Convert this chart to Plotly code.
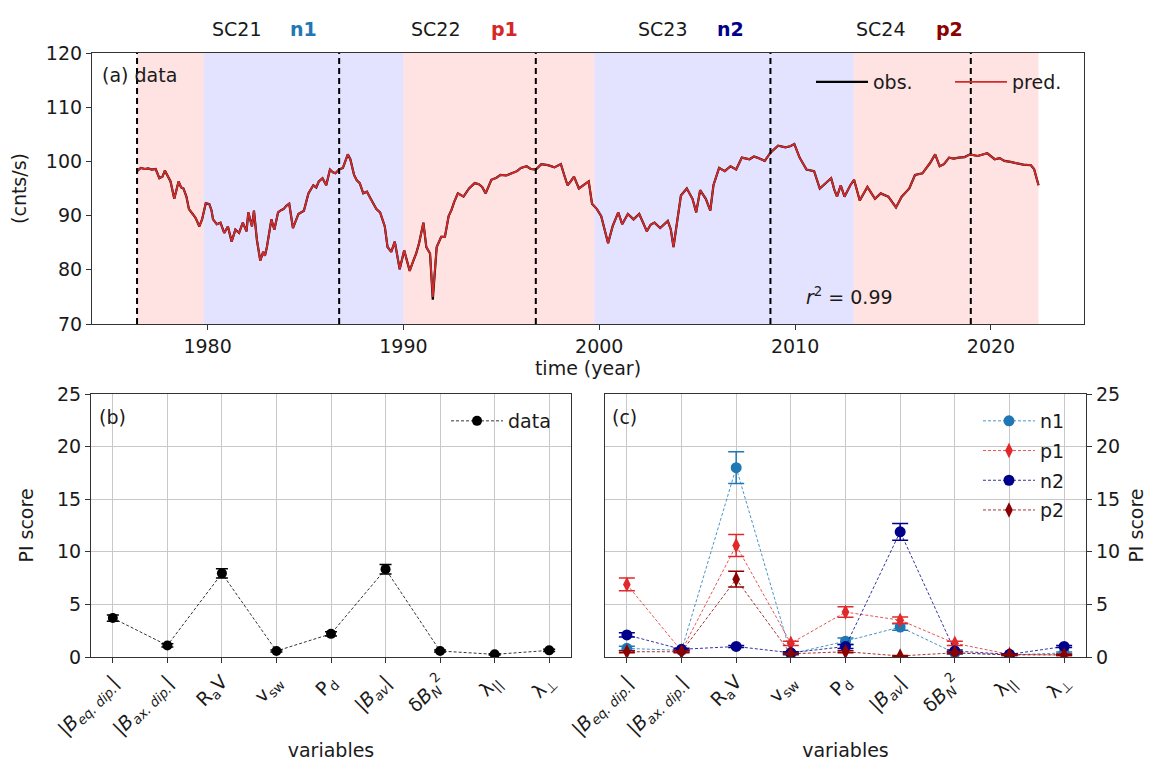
import plotly.graph_objects as go

# ---------------- data: panel (a) ----------------
years = [1976.40, 1976.59, 1976.80, 1976.97, 1977.15, 1977.35, 1977.54, 1977.70, 1977.82, 1977.95,
         1978.11, 1978.30, 1978.40, 1978.52, 1978.65, 1978.77, 1978.92, 1979.05, 1979.24, 1979.40,
         1979.58, 1979.72, 1979.91, 1980.09, 1980.20, 1980.28, 1980.47, 1980.66, 1980.85, 1981.04,
         1981.23, 1981.42, 1981.61, 1981.80, 1981.99, 1982.08, 1982.27, 1982.37, 1982.52, 1982.69,
         1982.84, 1982.93, 1983.03, 1983.26, 1983.41, 1983.60, 1983.75, 1983.88, 1984.02, 1984.17,
         1984.36, 1984.50, 1984.64, 1984.92, 1985.15, 1985.40, 1985.55, 1985.68, 1985.87, 1986.06,
         1986.25, 1986.40, 1986.53, 1986.72, 1986.91, 1987.05, 1987.16, 1987.29, 1987.48, 1987.62,
         1987.77, 1987.95, 1988.14, 1988.33, 1988.50, 1988.62, 1988.81, 1989.05, 1989.19, 1989.38,
         1989.56, 1989.70, 1989.81, 1990.04, 1990.20, 1990.32, 1990.51, 1990.65, 1990.80, 1991.02,
         1991.17, 1991.36, 1991.50, 1991.70, 1991.93, 1992.12, 1992.31, 1992.45, 1992.59, 1992.78,
         1993.07, 1993.35, 1993.64, 1993.85, 1994.02, 1994.20, 1994.49, 1994.75, 1994.96, 1995.25,
         1995.53, 1995.80, 1996.00, 1996.29, 1996.50, 1996.76, 1997.04, 1997.38, 1997.71, 1997.90,
         1998.04, 1998.21, 1998.38, 1998.54, 1998.71, 1998.96, 1999.21, 1999.46, 1999.63, 1999.88,
         2000.10, 2000.25, 2000.45, 2000.68, 2000.97, 2001.17, 2001.46, 2001.75, 2002.04, 2002.25,
         2002.43, 2002.62, 2002.82, 2003.11, 2003.30, 2003.50, 2003.65, 2003.79, 2004.00, 2004.17,
         2004.47, 2004.76, 2004.95, 2005.15, 2005.44, 2005.67, 2005.83, 2006.12, 2006.41, 2006.70,
         2006.99, 2007.28, 2007.67, 2007.90, 2008.06, 2008.45, 2008.74, 2009.13, 2009.51, 2009.75,
         2009.96, 2010.23, 2010.58, 2010.97, 2011.26, 2011.55, 2011.84, 2012.00, 2012.14, 2012.33,
         2012.52, 2012.82, 2013.01, 2013.30, 2013.69, 2014.08, 2014.37, 2014.76, 2014.95, 2015.15,
         2015.44, 2015.83, 2016.12, 2016.50, 2016.89, 2017.15, 2017.38, 2017.60, 2017.86, 2018.10,
         2018.35, 2018.65, 2018.93, 2019.32, 2019.81, 2020.19, 2020.45, 2020.68, 2021.00, 2021.26,
         2021.65, 2022.04, 2022.20, 2022.33, 2022.43]

counts_obs = [98.2, 98.8, 98.6, 98.7, 98.5, 98.6, 96.9, 97.2, 98.3, 97.5,
              96.3, 93.1, 94.6, 96.3, 95.2, 95.0, 93.5, 91.2, 90.3, 89.5,
              88.0, 89.3, 92.3, 92.1, 91.0, 89.3, 88.4, 88.7, 86.8, 88.0,
              85.2, 87.4, 86.8, 88.7, 87.1, 90.6, 88.0, 90.9, 85.5, 81.7,
              83.3, 82.6, 84.2, 89.3, 87.4, 90.6, 91.0, 91.2, 91.8, 92.2,
              87.7, 89.0, 90.3, 90.9, 94.1, 95.6, 95.2, 96.3, 96.9, 95.6,
              98.5, 98.0, 97.8, 98.5, 98.8, 100.2, 101.3, 100.4, 97.5, 96.5,
              96.0, 94.1, 94.4, 93.1, 92.0, 91.2, 90.6, 88.0, 84.2, 83.3,
              85.2, 82.5, 80.1, 83.6, 81.5, 79.8, 81.7, 83.0, 84.9, 88.7,
              84.2, 83.0, 74.5, 84.2, 86.1, 86.1, 89.9, 91.0, 92.5, 94.1,
              93.5, 95.0, 96.0, 95.8, 95.3, 94.1, 96.6, 97.0, 97.5, 97.4,
              97.8, 98.2, 98.8, 99.1, 98.6, 98.5, 99.5, 99.3, 98.9, 99.2,
              99.5, 97.5, 95.6, 96.3, 97.2, 95.0, 95.6, 96.3, 92.2, 91.2,
              89.9, 87.5, 84.9, 88.0, 90.6, 88.4, 90.3, 89.3, 90.3, 88.6,
              87.1, 88.3, 88.7, 87.7, 88.4, 89.0, 87.5, 84.2, 89.5, 93.7,
              95.0, 93.1, 90.6, 94.7, 93.1, 90.9, 95.6, 98.8, 98.2, 99.1,
              98.5, 100.7, 100.4, 100.9, 100.7, 100.1, 101.6, 102.9, 102.6, 102.8,
              103.2, 100.7, 98.5, 98.2, 95.0, 96.0, 96.9, 94.8, 93.5, 95.6,
              93.5, 95.6, 96.6, 92.8, 95.3, 93.1, 94.1, 93.5, 92.6, 91.5,
              93.5, 95.0, 97.5, 97.8, 99.7, 101.3, 99.1, 99.5, 100.7, 100.5,
              100.7, 100.8, 101.3, 101.0, 101.5, 100.4, 100.6, 100.1, 99.9, 99.7,
              99.4, 99.3, 98.6, 96.9, 95.6]

counts_pred = [98.2, 98.8, 98.6, 98.7, 98.5, 98.6, 96.9, 97.2, 98.3, 97.5,
               96.3, 93.1, 94.6, 96.3, 95.2, 95.0, 93.5, 91.2, 90.3, 89.5,
               88.0, 89.3, 92.3, 92.1, 91.0, 89.3, 88.4, 88.7, 86.8, 88.0,
               85.2, 87.4, 86.8, 88.7, 87.1, 90.6, 88.0, 90.9, 85.5, 81.7,
               83.3, 82.6, 84.2, 89.3, 87.4, 90.6, 91.0, 91.2, 91.8, 92.2,
               87.7, 89.0, 90.3, 90.9, 94.1, 95.6, 95.2, 96.3, 96.9, 95.6,
               98.5, 98.0, 97.8, 98.5, 98.8, 100.2, 101.3, 100.4, 97.5, 96.5,
               96.0, 94.1, 94.4, 93.1, 92.0, 91.2, 90.6, 88.0, 84.2, 83.3,
               85.2, 82.5, 80.1, 83.6, 81.5, 79.8, 81.7, 83.0, 84.9, 88.7,
               84.2, 83.0, 75.0, 84.2, 86.1, 86.1, 89.9, 91.0, 92.5, 94.1,
               93.5, 95.0, 96.0, 95.8, 95.3, 94.1, 96.6, 97.0, 97.5, 97.4,
               97.8, 98.2, 98.8, 99.1, 98.6, 98.5, 99.5, 99.3, 98.9, 99.2,
               99.5, 97.5, 95.6, 96.3, 97.2, 95.0, 95.6, 96.3, 92.2, 91.2,
               89.9, 87.5, 84.9, 88.0, 90.6, 88.4, 90.3, 89.3, 90.3, 88.6,
               87.1, 88.3, 88.7, 87.7, 88.4, 89.0, 87.5, 84.2, 89.5, 93.7,
               95.0, 93.1, 90.6, 94.7, 93.1, 90.9, 95.6, 98.8, 98.2, 99.1,
               98.5, 100.7, 100.4, 100.9, 100.7, 100.1, 101.6, 102.9, 102.6, 102.8,
               103.2, 100.7, 98.5, 98.2, 95.0, 96.0, 96.9, 94.8, 93.5, 95.6,
               93.5, 95.6, 96.6, 92.8, 95.3, 93.1, 94.1, 93.5, 92.6, 91.5,
               93.5, 95.0, 97.5, 97.8, 99.7, 101.3, 99.1, 99.5, 100.7, 100.5,
               100.7, 100.8, 101.3, 101.0, 101.5, 100.4, 100.6, 100.1, 99.9, 99.7,
               99.4, 99.3, 98.6, 96.9, 95.6]

cycle_minima = [1976.40, 1986.72, 1996.76, 2008.74, 2018.97]
phase_start = [1976.40, 1979.80, 1990.00, 1999.75, 2013.00]
phase_end = [1979.80, 1990.00, 1999.75, 2013.00, 2022.43]
phase_kind = ["p", "n", "p", "n", "p"]

cycle_names = ["SC21", "SC22", "SC23", "SC24"]
cycle_name_x = [1981.5, 1991.65, 2003.24, 2014.37]
period_names = ["n1", "p1", "n2", "p2"]
period_name_x = [1984.9, 1995.15, 2006.72, 2017.86]

# ---------------- data: panels (b), (c) ----------------
variables = ["|<i>B</i><sub><i>eq. dip.</i></sub>|", "|<i>B</i><sub><i>ax. dip.</i></sub>|",
             "R<sub>a</sub>V", "v<sub>sw</sub>", "P<sub>d</sub>", "|<i>B</i><sub><i>av</i></sub>|",
             "δ<i>B</i><sub><i>N</i></sub><sup>2</sup>", "λ<sub>||</sub>", "λ<sub>⊥</sub>"]

pi_data = [3.7, 1.1, 7.95, 0.57, 2.2, 8.35, 0.57, 0.25, 0.63]
pi_data_err = [0.3, 0.15, 0.45, 0.1, 0.2, 0.45, 0.1, 0.05, 0.1]

pi_n1 = [0.82, 0.63, 18.0, 0.3, 1.5, 2.85, 0.38, 0.2, 0.38]
pi_n1_err = [0.2, 0.1, 1.5, 0.1, 0.3, 0.3, 0.1, 0.05, 0.1]
pi_p1 = [6.9, 0.57, 10.6, 1.3, 4.27, 3.5, 1.3, 0.25, 0.2]
pi_p1_err = [0.6, 0.1, 1.05, 0.2, 0.5, 0.3, 0.2, 0.05, 0.05]
pi_n2 = [2.1, 0.73, 1.0, 0.4, 1.0, 11.9, 0.57, 0.25, 1.0]
pi_n2_err = [0.2, 0.1, 0.1, 0.1, 0.2, 0.8, 0.1, 0.05, 0.1]
pi_p2 = [0.5, 0.5, 7.4, 0.3, 0.5, 0.1, 0.4, 0.2, 0.2]
pi_p2_err = [0.1, 0.1, 0.75, 0.05, 0.1, 0.05, 0.1, 0.05, 0.05]

# ---------------- styling ----------------
FONT = "DejaVu Sans, Liberation Sans, sans-serif"
FS = 19
TXT = "#1a1a1a"
C_N1 = "#1f77b4"
C_P1 = "#e0292b"
C_N2 = "#00008b"
C_P2 = "#8b0000"
PINK = "rgba(255,0,0,0.11)"
BLUE = "rgba(0,0,255,0.11)"

W, H = 1155, 760


def px_x(p):
    return p / W


def px_y(p):
    return 1 - p / H


fig = go.Figure()

# panel (a)
fig.add_trace(go.Scatter(x=years, y=counts_obs, mode="lines", name="obs.",
                         line=dict(color="black", width=2.2), xaxis="x", yaxis="y", legend="legend"))
fig.add_trace(go.Scatter(x=years, y=counts_pred, mode="lines", name="pred.",
                         line=dict(color="#d42a2a", width=1.8), xaxis="x", yaxis="y", legend="legend"))

# panel (b)
fig.add_trace(go.Scatter(x=variables, y=pi_data, mode="lines+markers", name="data",
                         line=dict(color="black", width=0.8, dash="3px,2px"),
                         marker=dict(color="black", size=10, symbol="circle"),
                         error_y=dict(type="data", array=pi_data_err, color="black", thickness=1.5, width=6),
                         xaxis="x2", yaxis="y2", legend="legend2"))

# panel (c)
series_c = [("n1", pi_n1, pi_n1_err, C_N1, "circle"),
            ("p1", pi_p1, pi_p1_err, C_P1, "diamond-tall"),
            ("n2", pi_n2, pi_n2_err, C_N2, "circle"),
            ("p2", pi_p2, pi_p2_err, C_P2, "diamond-tall")]
for name, vals, errs, col, sym in series_c:
    fig.add_trace(go.Scatter(x=variables, y=vals, mode="lines+markers", name=name,
                             line=dict(color=col, width=0.8, dash="3px,2px"),
                             marker=dict(color=col, size=11, symbol=sym),
                             error_y=dict(type="data", array=errs, color=col, thickness=1.5, width=8),
                             xaxis="x3", yaxis="y3", legend="legend3", legendgroup=name))

shapes = []
for s, e, k in zip(phase_start, phase_end, phase_kind):
    shapes.append(dict(type="rect", xref="x", yref="y domain", x0=s, x1=e, y0=0, y1=1,
                       fillcolor=PINK if k == "p" else BLUE, line=dict(width=0), layer="below"))
for m in cycle_minima:
    shapes.append(dict(type="line", xref="x", yref="y domain", x0=m, x1=m, y0=0, y1=1,
                       line=dict(color="black", width=2, dash="6px,4px"), layer="above"))

annotations = []
for name, xx in zip(cycle_names, cycle_name_x):
    annotations.append(dict(text=name, x=xx, y=px_y(21), xref="x", yref="paper", yanchor="middle",
                            showarrow=False, font=dict(family=FONT, size=FS, color=TXT)))
for name, xx, col in zip(period_names, period_name_x, [C_N1, "#d62728", C_N2, C_P2]):
    annotations.append(dict(text="<b>" + name + "</b>", x=xx, y=px_y(21), xref="x", yref="paper",
                            yanchor="middle", showarrow=False, font=dict(family=FONT, size=FS, color=col)))
annotations.append(dict(text="(a) data", x=1974.5, y=116.0, xref="x", yref="y", xanchor="left",
                        yanchor="middle", showarrow=False, font=dict(family=FONT, size=FS, color=TXT)))
annotations.append(dict(text="<i>r</i><sup>2</sup> = 0.99", x=2012.8, y=75.2, xref="x", yref="y",
                        yanchor="middle", showarrow=False, font=dict(family=FONT, size=FS, color=TXT)))
annotations.append(dict(text="(b)", x=0.013, y=0.912, xref="x2 domain", yref="y2 domain", xanchor="left",
                        yanchor="middle", showarrow=False, font=dict(family=FONT, size=FS, color=TXT)))
annotations.append(dict(text="(c)", x=0.010, y=0.912, xref="x3 domain", yref="y3 domain", xanchor="left",
                        yanchor="middle", showarrow=False, font=dict(family=FONT, size=FS, color=TXT)))

axis_common = dict(showline=True, linecolor="#333", linewidth=1.2, mirror=True, ticks="outside",
                   ticklen=5, tickwidth=1.2, tickcolor="#333", zeroline=False,
                   tickfont=dict(family=FONT, size=FS, color=TXT), automargin=False)

fig.update_layout(
    width=W, height=H, margin=dict(l=0, r=0, t=0, b=0),
    plot_bgcolor="white", paper_bgcolor="white",
    font=dict(family=FONT, size=FS, color=TXT),
    shapes=shapes, annotations=annotations,
    xaxis=dict(axis_common, domain=[px_x(84), px_x(1076)], range=[1974.1, 2024.75], anchor="y",
               tickvals=[1980, 1990, 2000, 2010, 2020], showgrid=False,
               title=dict(text="time (year)", standoff=2, font=dict(family=FONT, size=FS, color=TXT))),
    yaxis=dict(axis_common, domain=[px_y(316), px_y(45)], range=[70, 120], anchor="x",
               tickvals=[70, 80, 90, 100, 110, 120], showgrid=False,
               title=dict(text="(cnts/s)", standoff=14, font=dict(family=FONT, size=FS, color=TXT))),
    xaxis2=dict(axis_common, domain=[px_x(83), px_x(563)], range=[-0.4, 8.4], anchor="y2",
                type="category", tickangle=-45, showgrid=True, gridcolor="#c8c8c8", gridwidth=1,
                title=dict(text="variables", standoff=3, font=dict(family=FONT, size=FS, color=TXT))),
    yaxis2=dict(axis_common, domain=[px_y(649), px_y(386)], range=[0, 25], anchor="x2",
                tickvals=[0, 5, 10, 15, 20, 25], showgrid=True, gridcolor="#c8c8c8", gridwidth=1,
                title=dict(text="PI score", standoff=18, font=dict(family=FONT, size=FS, color=TXT))),
    xaxis3=dict(axis_common, domain=[px_x(597), px_x(1078)], range=[-0.4, 8.4], anchor="y3",
                type="category", tickangle=-45, showgrid=True, gridcolor="#c8c8c8", gridwidth=1,
                title=dict(text="variables", standoff=3, font=dict(family=FONT, size=FS, color=TXT))),
    yaxis3=dict(axis_common, domain=[px_y(649), px_y(386)], range=[0, 25], anchor="x3", side="right",
                tickvals=[0, 5, 10, 15, 20, 25], showgrid=True, gridcolor="#c8c8c8", gridwidth=1,
                title=dict(text="PI score", standoff=10, font=dict(family=FONT, size=FS, color=TXT))),
    legend=dict(orientation="h", x=px_x(803), y=px_y(55), xanchor="left", yanchor="top",
                bgcolor="rgba(0,0,0,0)", font=dict(family=FONT, size=FS, color=TXT),
                itemwidth=52, entrywidth=72),
    legend2=dict(x=px_x(438), y=px_y(394), xanchor="left", yanchor="top", itemwidth=52,
                 bgcolor="rgba(0,0,0,0)", font=dict(family=FONT, size=FS, color=TXT)),
    legend3=dict(x=px_x(970), y=px_y(394), xanchor="left", yanchor="top", itemwidth=52,
                 bgcolor="rgba(0,0,0,0)", font=dict(family=FONT, size=FS, color=TXT), tracegroupgap=2),
)

fig.write_html("out.html")
